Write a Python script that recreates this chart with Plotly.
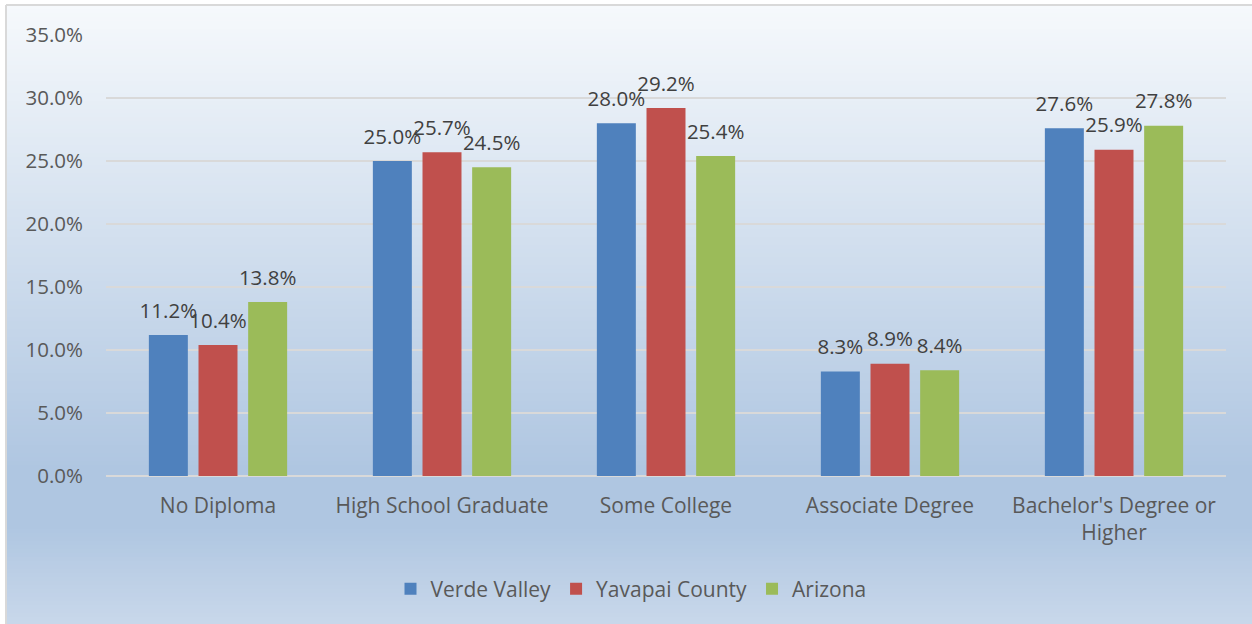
import plotly.graph_objects as go

categories = ["No Diploma", "High School Graduate", "Some College", "Associate Degree", "Bachelor's Degree or<br>Higher"]
series_names = ["Verde Valley", "Yavapai County", "Arizona"]
verde_valley = [0.112, 0.250, 0.280, 0.083, 0.276]
yavapai_county = [0.104, 0.257, 0.292, 0.089, 0.259]
arizona = [0.138, 0.245, 0.254, 0.084, 0.278]
y_ticks = [0.0, 0.05, 0.10, 0.15, 0.20, 0.25, 0.30, 0.35]

series_values = [verde_valley, yavapai_county, arizona]
colors = ["#4F81BD", "#C0504D", "#9BBB59"]

W, H = 1252, 624
L, R, T, B = 106, 1226, 35, 476
PW, PH = R - L, B - T
FONT = "Open Sans"
TXT = 21
NUM = 20.5

def px_x(px):
    return (px - L) / PW

def px_y(py):
    return (B - py) / PH

fig = go.Figure()
for name, vals, col in zip(series_names, series_values, colors):
    fig.add_trace(go.Bar(
        x=categories, y=vals, name=name, marker=dict(color=col, line=dict(width=0)),
        offsetgroup=name, hoverinfo="skip",
    ))
for name, vals in zip(series_names, series_values):
    fig.add_trace(go.Scatter(
        x=categories, y=vals, mode="text+markers", offsetgroup=name,
        marker=dict(size=18, color="rgba(0,0,0,0)"),
        text=[f"{v*100:.1f}%" for v in vals], textposition="top center",
        textfont=dict(family=FONT, size=NUM, color="#404040"),
        showlegend=False, hoverinfo="skip", cliponaxis=False,
    ))

# gradient background (chart area) via thin strips
stops = [(0.0, (0xF6, 0xF9, 0xFC)), (0.74, (0xAF, 0xC6, 0xE1)), (0.83, (0xAF, 0xC6, 0xE1)), (1.0, (0xCA, 0xD9, 0xEB))]
def grad(t):
    for (t0, c0), (t1, c1) in zip(stops[:-1], stops[1:]):
        if t <= t1:
            f = 0 if t1 == t0 else (t - t0) / (t1 - t0)
            return "rgb(%d,%d,%d)" % tuple(round(a + (b - a) * f) for a, b in zip(c0, c1))
    return "rgb(%d,%d,%d)" % stops[-1][1]

area_top, area_bot, area_left, area_right = 5, 632, 6, 1262
shapes = []
step = 4
y = area_top
while y < area_bot:
    t = (y + step / 2 - area_top) / (area_bot - area_top)
    shapes.append(dict(type="rect", xref="paper", yref="paper", layer="below",
                       x0=px_x(area_left), x1=px_x(area_right), y0=px_y(y), y1=px_y(min(y + step + 1, area_bot)),
                       fillcolor=grad(t), line=dict(width=0)))
    y += step
# chart-area border (top and left edges visible)
shapes.append(dict(type="line", xref="paper", yref="paper", layer="below",
                   x0=px_x(area_left), x1=px_x(area_right), y0=px_y(area_top), y1=px_y(area_top),
                   line=dict(color="#D9D9D9", width=2)))
shapes.append(dict(type="line", xref="paper", yref="paper", layer="below",
                   x0=px_x(area_left), x1=px_x(area_left), y0=px_y(area_top), y1=px_y(area_bot),
                   line=dict(color="#D9D9D9", width=2)))

fig.update_layout(
    width=W, height=H,
    margin=dict(l=L, r=W - R, t=T, b=H - B, pad=0),
    paper_bgcolor="white", plot_bgcolor="rgba(0,0,0,0)",
    barmode="group", bargap=0.335, bargroupgap=0.215,
    scattermode="group", scattergap=0.335,
    font=dict(family=FONT, size=TXT, color="#595959"),
    shapes=shapes,
    showlegend=True,
    legend=dict(orientation="h", x=px_x(631), xanchor="center", y=px_y(589), yanchor="middle",
                font=dict(family=FONT, size=TXT, color="#595959"), bgcolor="rgba(0,0,0,0)",
                traceorder="normal"),
    xaxis=dict(type="category", showgrid=False, showline=False, zeroline=False,
               ticks="", tickfont=dict(family=FONT, size=TXT, color="#595959"), ticklabelstandoff=15),
    yaxis=dict(range=[0, 0.35], tickvals=y_ticks, tickformat=".1%", showgrid=True,
               gridcolor="#D9D9D9", gridwidth=1.5, zeroline=True, zerolinecolor="#D9D9D9",
               zerolinewidth=2, showline=False, ticks="", ticklabelstandoff=22,
               tickfont=dict(family=FONT, size=NUM, color="#595959")),
)

fig.write_html("out.html", config={"displayModeBar": False},
               post_script="document.body.style.margin='0';document.body.style.padding='0';document.body.style.overflow='hidden';")
